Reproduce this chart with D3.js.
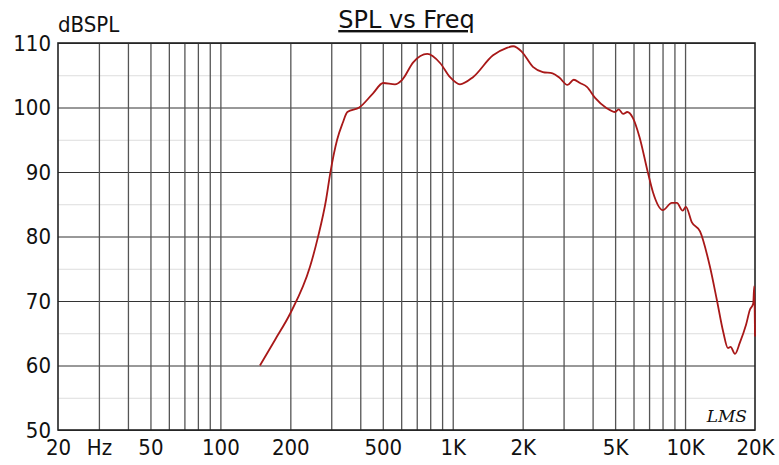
<!DOCTYPE html>
<html lang="en">
<head>
  <meta charset="UTF-8">
  <title>SPL vs Freq</title>
  <style>
    body { margin: 0; background: #fff; }
    text { font-family: "DejaVu Sans Condensed", "DejaVu Sans", sans-serif; fill: #111; }
    .grid line { stroke: #555; stroke-width: 1.3px; }
    .grid path { display: none; }
    .hgrid line { stroke: #333; stroke-width: 1px; }
    .hgrid.minor line { stroke: #ddd; }
    .axis path, .axis line { display: none; }
    .curve { fill: none; stroke: #a81818; stroke-width: 1.8px; }
  </style>
</head>
<body>
  <svg id="chart" width="779" height="465"></svg>
  <script src="https://cdn.jsdelivr.net/npm/d3@7"></script>
  <script>
    // response curve
    const freqs = [148, 172, 200, 243, 263, 285, 297, 318, 336, 352, 396, 454, 502, 564, 606,
      676, 777, 882, 974, 1074, 1222, 1491, 1700, 1820, 1988, 2214, 2442, 2690, 2882, 3118,
      3320, 3530, 3780, 4100, 4600, 5000, 5180, 5420, 5640, 5960, 6370, 6920, 7270, 8020,
      8770, 9220, 9770, 10080, 10700, 11600, 12800, 13700, 14600, 15300, 15700, 16400,
      17200, 18300, 19000, 19650, 19850, 20000];
    const spl = [60.0, 64.0, 68.1, 75.3, 79.9, 85.7, 89.8, 95.0, 97.6, 99.3, 100.0, 102.2, 103.8, 103.6, 104.3,
      107.0, 108.3, 106.9, 104.7, 103.6, 104.7, 108.1, 109.2, 109.5, 108.6, 106.3, 105.5, 105.3, 104.6, 103.5,
      104.3, 103.8, 103.2, 101.5, 99.9, 99.3, 99.7, 99.0, 99.3, 98.4, 95.4, 89.9, 86.9, 84.1,
      85.2, 85.2, 84.0, 84.6, 82.2, 80.8, 75.3, 70.2, 65.2, 62.7, 62.9, 61.8,
      63.5, 66.3, 68.6, 69.6, 72.3, 64.5];

    const yTicks = [50, 60, 70, 80, 90, 100, 110];
    const xLabels = [20, 30, 50, 100, 200, 500, 1000, 2000, 5000, 10000, 20000];
    const xLabelText = ["20", "Hz", "50", "100", "200", "500", "1K", "2K", "5K", "10K", "20K"];

    const plotL = 58, plotR = 755, plotT = 43, plotB = 430;
    const svg = d3.select("#chart");

    const x = d3.scaleLog().domain([20, 20000]).range([plotL, plotR]);
    const y = d3.scaleLinear().domain([50, 110]).range([plotB, plotT]);

    // vertical grid: every 1..9 of each decade
    const gridFreqs = [];
    [10, 100, 1000, 10000].forEach(dec => {
      for (let k = 1; k <= 9; k++) {
        const f = dec * k;
        if (f > 20 && f < 20000) gridFreqs.push(f);
      }
    });

    svg.append("g")
      .attr("class", "hgrid minor")
      .attr("transform", `translate(${plotL},0)`)
      .call(d3.axisLeft(y).tickValues(d3.range(55, 110, 10)).tickSize(-(plotR - plotL)).tickFormat(""))
      .call(g => g.select(".domain").remove());

    svg.append("g")
      .attr("class", "hgrid")
      .attr("transform", `translate(${plotL},0)`)
      .call(d3.axisLeft(y).tickValues(yTicks).tickSize(-(plotR - plotL)).tickFormat(""))
      .call(g => g.select(".domain").remove());

    svg.append("g")
      .attr("class", "grid")
      .attr("transform", `translate(0,${plotB})`)
      .call(d3.axisBottom(x).tickValues(gridFreqs).tickSize(-(plotB - plotT)).tickFormat(""));

    svg.append("rect")
      .attr("x", plotL).attr("y", plotT)
      .attr("width", plotR - plotL).attr("height", plotB - plotT)
      .attr("fill", "none").attr("stroke", "#222").attr("stroke-width", 1.6);

    const line = d3.line()
      .x((d, i) => x(freqs[i]))
      .y(d => y(d))
      .curve(d3.curveMonotoneX);

    svg.append("path")
      .attr("class", "curve")
      .attr("d", line(spl));

    // axis labels
    svg.append("g")
      .attr("class", "axis")
      .attr("transform", `translate(${plotL - 7},0)`)
      .call(d3.axisLeft(y).tickValues(yTicks).tickSize(0).tickPadding(0))
      .call(g => g.selectAll("text").style("font-size", "22px").attr("fill", "#111"));

    svg.append("g")
      .attr("class", "axis")
      .attr("transform", `translate(0,${plotB + 9})`)
      .call(d3.axisBottom(x).tickValues(xLabels).tickSize(0).tickPadding(0)
        .tickFormat((d, i) => xLabelText[i]))
      .call(g => g.selectAll("text").style("font-size", "22px").attr("fill", "#111"));

    svg.append("text")
      .attr("x", plotL).attr("y", 32)
      .style("font-size", "22px")
      .text("dBSPL");

    svg.append("text")
      .attr("x", (plotL + plotR) / 2).attr("y", 28)
      .attr("text-anchor", "middle")
      .style("font-family", "'DejaVu Sans', sans-serif")
      .style("font-size", "24px")
      .style("text-decoration", "underline")
      .text("SPL vs Freq");

    svg.append("text")
      .attr("x", 747).attr("y", 422)
      .attr("text-anchor", "end")
      .style("font-family", "'DejaVu Serif', serif")
      .style("font-size", "17px")
      .style("font-style", "italic")
      .attr("fill", "#222")
      .text("LMS");
  </script>
</body>
</html>
